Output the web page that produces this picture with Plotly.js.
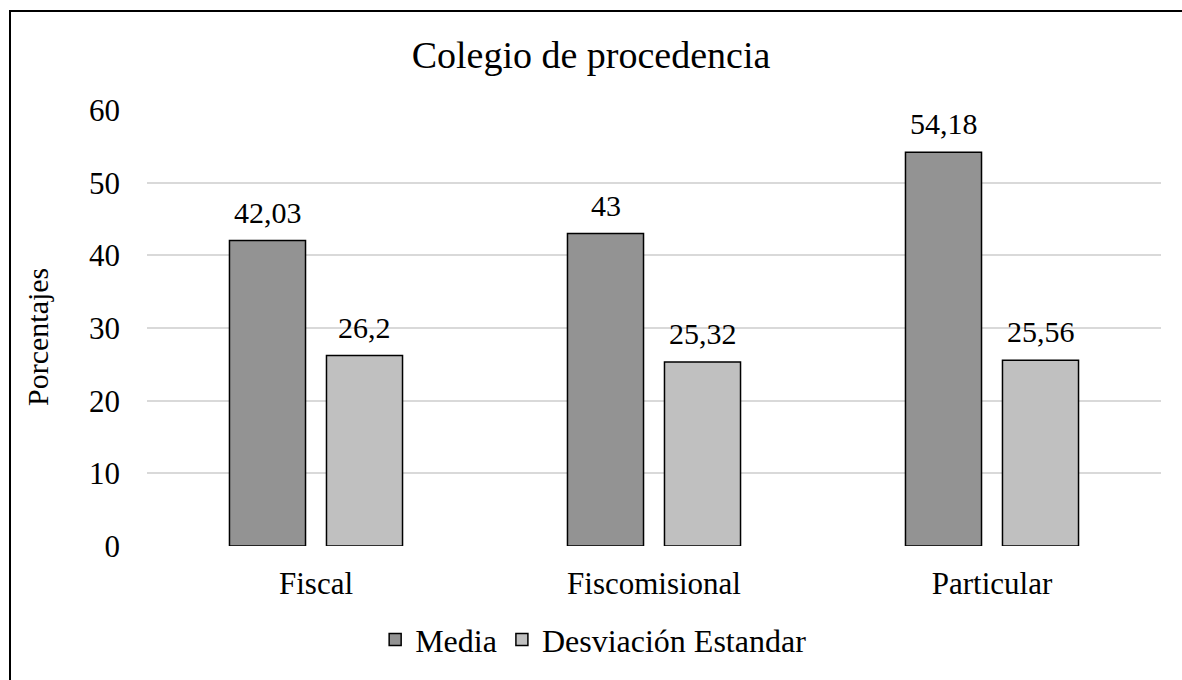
<!DOCTYPE html>
<html>
<head>
<meta charset="utf-8">
<script src="https://cdn.plot.ly/plotly-3.0.1.min.js"></script>
<style>html,body{margin:0;padding:0;background:#fff;}#chart{width:1182px;height:680px;}</style>
</head>
<body>
<div id="chart"></div>
<script>
const categories = ["Fiscal", "Fiscomisional", "Particular"];
const media = [42.03, 43, 54.18];
const desviacion = [26.2, 25.32, 25.56];
const mediaLabels = ["42,03", "43", "54,18"];
const desviacionLabels = ["26,2", "25,32", "25,56"];
const yTicks = [0, 10, 20, 30, 40, 50, 60];

const font = {family: "Liberation Serif, Times New Roman, serif", color: "#000"};

const traces = [
  {type: "bar", name: "Media", x: categories, y: media,
   marker: {color: "#939393", line: {color: "#000", width: 1.5}}},
  {type: "bar", name: "Desviación Estandar", x: categories, y: desviacion,
   marker: {color: "#c0c0c0", line: {color: "#000", width: 1.5}}}
];

const annotations = [];
categories.forEach((c, i) => {
  annotations.push({x: c, y: media[i], xref: "x", yref: "y", text: mediaLabels[i], showarrow: false,
    xshift: -48, yshift: 10, yanchor: "bottom", font: Object.assign({size: 30}, font)});
  annotations.push({x: c, y: desviacion[i], xref: "x", yref: "y", text: desviacionLabels[i], showarrow: false,
    xshift: 48.5, yshift: 10, yanchor: "bottom", font: Object.assign({size: 30}, font)});
});
annotations.push({text: "Porcentajes", xref: "paper", yref: "paper", x: (37-147)/1014, y: (546-337)/436,
  showarrow: false, textangle: -90, xanchor: "center", yanchor: "middle", font: Object.assign({size: 30}, font)});

const layout = {
  width: 1182, height: 680,
  margin: {l: 147, r: 21, t: 110, b: 134},
  paper_bgcolor: "#fff", plot_bgcolor: "#fff",
  font: Object.assign({size: 31}, font),
  title: {text: "Colegio de procedencia", font: Object.assign({size: 38}, font), x: 0.5, xanchor: "center", y: 0.92, yanchor: "middle"},
  barmode: "group", bargap: 0.426, bargroupgap: 0.216,
  showlegend: true,
  legend: {orientation: "h", x: 0.44, xanchor: "center", y: -0.215, yanchor: "middle",
           font: Object.assign({size: 32}, font), itemwidth: 30, traceorder: "normal"},
  xaxis: {showgrid: false, zeroline: false, showline: false, ticks: "",
          tickfont: Object.assign({size: 31}, font), ticklabelstandoff: 16},
  yaxis: {range: [0, 60], tickvals: yTicks, showgrid: true, gridcolor: "#d9d9d9", gridwidth: 2,
          zeroline: false, showline: false, ticks: "", ticklabelstandoff: 26,
          tickfont: Object.assign({size: 31}, font)},
  annotations: annotations,
  shapes: [{type: "rect", xref: "paper", yref: "paper", x0: (10-147)/1014, x1: 1.1, y0: -0.5, y1: (546-11)/436,
            line: {color: "#000", width: 2}, fillcolor: "rgba(0,0,0,0)", layer: "above"}]
};

Plotly.newPlot("chart", traces, layout, {displayModeBar: false, staticPlot: true});
</script>
</body>
</html>
